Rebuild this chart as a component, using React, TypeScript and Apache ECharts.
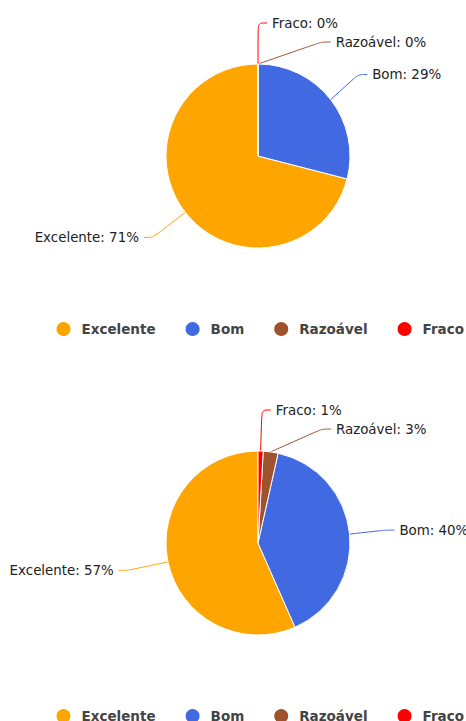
import React, { useEffect, useRef } from "react";
import * as echarts from "echarts";

const categories = ["Excelente", "Bom", "Razoável", "Fraco"];
const colors = ["#FFA500", "#4169E1", "#A0522D", "#FF0000"];
const valuesChart1 = [71, 29, 0, 0];
const valuesChart2 = [56.6, 39.9, 2.6, 0.9];
// drawing order of the slices (counter-clockwise from the top)
const orderChart1 = [0, 1, 3, 2];
const orderChart2 = [0, 1, 2, 3];

function buildOption(values: number[], order: number[]) {
  return {
    animation: false,
    color: colors,
    legend: {
      data: categories,
      top: 307,
      left: 41.5,
      icon: "circle",
      itemWidth: 26,
      itemHeight: 16,
      itemGap: 28,
      textStyle: {
        fontFamily: "DejaVu Sans",
        fontSize: 13.5,
        fontWeight: "bold",
        color: "#444",
      },
    },
    series: [
      {
        type: "pie",
        radius: 92,
        center: [250, 148],
        clockwise: false,
        startAngle: 89.98,
        itemStyle: { borderColor: "#fff", borderWidth: 1 },
        label: {
          fontFamily: "DejaVu Sans",
          fontSize: 13.4,
          lineHeight: 17,
          color: "#222",
          overflow: "none",
          formatter: (p: any) => `${p.name}: ${Math.round(p.value)}%`,
        },
        labelLine: { length: 41, length2: 9, smooth: true },
        emphasis: { disabled: true },
        data: order.map((i) => ({
          name: categories[i],
          value: values[i],
          itemStyle: { color: colors[i] },
        })),
      },
    ],
  };
}

function PieChart({
  values,
  order,
  top,
}: {
  values: number[];
  order: number[];
  top: number;
}) {
  const ref = useRef<HTMLDivElement>(null);
  useEffect(() => {
    if (!ref.current) return;
    const chart = echarts.init(ref.current, undefined, { renderer: "svg" });
    chart.setOption(buildOption(values, order) as any);
    return () => chart.dispose();
  }, [values, order]);
  return (
    <div
      ref={ref}
      style={{ position: "absolute", left: 8, top, width: 500, height: 387 }}
    />
  );
}

export default function App() {
  return (
    <div
      style={{
        position: "fixed",
        left: 0,
        top: 0,
        width: 466,
        height: 721,
        overflow: "hidden",
        background: "#fff",
      }}
    >
      <PieChart values={valuesChart1} order={orderChart1} top={8} />
      <PieChart values={valuesChart2} order={orderChart2} top={395} />
    </div>
  );
}
